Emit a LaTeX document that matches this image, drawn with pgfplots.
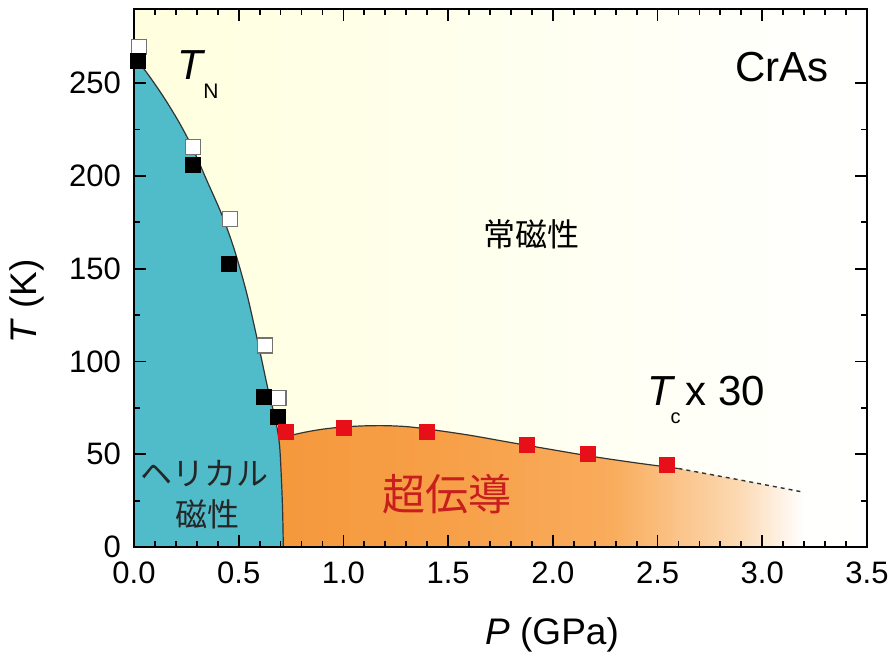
\documentclass[border=0pt]{standalone}
\usepackage{fontspec}
\setmainfont{Liberation Sans}
\newfontfamily\jp{Noto Sans CJK JP}
\usepackage{pgfplots}
\pgfplotsset{compat=1.18}
\definecolor{tealC}{RGB}{80,187,201}
\definecolor{orangeC}{RGB}{245,152,60}
\definecolor{orangeC2}{RGB}{247,160,72}
\definecolor{orangeC3}{RGB}{249,172,92}
\definecolor{orangeC4}{RGB}{252,218,180}
\definecolor{bgY}{RGB}{255,255,222}
\definecolor{redM}{RGB}{232,16,24}
\definecolor{redT}{RGB}{200,30,30}
\pgfdeclarehorizontalshading{orangefade}{100bp}{color(0bp)=(orangeC); color(25bp)=(orangeC); color(42bp)=(orangeC2); color(57bp)=(orangeC3); color(69bp)=(orangeC4); color(75bp)=(white); color(100bp)=(white)}
\begin{document}
\begin{tikzpicture}
\useasboundingbox (-67bp,-55bp) rectangle (379.5bp,273.5bp);
\begin{axis}[
  at={(0,0)}, anchor=south west,
  width=366.5bp, height=269bp, scale only axis,
  xmin=0, xmax=3.5, ymin=0, ymax=290,
  xtick={0,0.5,1,1.5,2,2.5,3,3.5}, minor x tick num=4,
  ytick={0,50,100,150,200,250}, minor y tick num=1,
  tick align=inside, tick pos=both,
  major tick length=6bp, minor tick length=3bp,
  every tick/.style={black, line width=0.9bp},
  axis line style={line width=1.2bp},
  axis on top, clip=false,
  ticklabel style={font=\fontsize{15.5bp}{18bp}\selectfont},
  x tick label style={yshift=-4bp, /pgf/number format/.cd, fixed, fixed zerofill, precision=1, assume math mode=true},
  y tick label style={xshift=-3bp, /pgf/number format/assume math mode=true},
]
% background
\addplot[draw=none, left color=bgY, right color=white] coordinates {(0,290)(3.5,290)} \closedcycle;
% superconducting region
\addplot[draw=none, shade, shading=orangefade] coordinates {
(0.65,57)(0.69,58.5)(0.8,61.5)(0.9,63.5)(1.0,64.7)(1.1,65.3)(1.2,65.4)(1.3,64.9)(1.4,63.6)(1.6,60.3)(1.8,56.3)(2.0,52.4)(2.2,48.6)(2.4,45.3)(2.6,42.3)(2.9,36)(3.2,29.5)} \closedcycle;
% helical region
\addplot[draw=none, fill=tealC] coordinates {
(0,263)(0.045,258)(0.1,249.5)(0.156,240)(0.22,228)(0.28,215)(0.35,197)(0.42,179)(0.48,160)(0.54,136)(0.60,106)(0.64,85)(0.673,70)(0.688,61)(0.697,52)(0.705,34)(0.71,18)(0.713,0)} \closedcycle;
% boundary lines
\addplot[black!80, line width=0.6bp, smooth] coordinates {
(0,263)(0.045,258)(0.1,249.5)(0.156,240)(0.22,228)(0.28,215)(0.35,197)(0.42,179)(0.48,160)(0.54,136)(0.60,106)(0.64,85)(0.673,70)(0.688,61)(0.697,52)(0.705,34)(0.71,18)(0.713,0)};
\addplot[black!80, line width=0.6bp, smooth] coordinates {
(0.69,58.5)(0.8,61.5)(0.9,63.5)(1.0,64.7)(1.1,65.3)(1.2,65.4)(1.3,64.9)(1.4,63.6)(1.6,60.3)(1.8,56.3)(2.0,52.4)(2.2,48.6)(2.4,45.3)(2.6,42.3)};
\addplot[black!80, line width=0.7bp, dashed, dash pattern=on 2bp off 2bp] coordinates {(2.6,42.3)(2.9,36)(3.2,29.5)};
% markers
\addplot[only marks, mark=square*, mark size=3.75bp, mark options={fill=white, draw=black!55, line width=0.6bp}] coordinates {
(0.022,269.5)(0.28,215.6)(0.46,177)(0.626,108.6)(0.69,80.5)};
\addplot[only marks, mark=square*, mark size=3.75bp, mark options={fill=black, draw=black}] coordinates {
(0.02,262)(0.28,206)(0.454,152.7)(0.62,80.8)(0.686,70)};
\addplot[only marks, mark=square*, mark size=3.75bp, mark options={fill=redM, draw=redM}] coordinates {
(0.727,62)(1.0,64.1)(1.40,62)(1.877,54.8)(2.167,50)(2.546,44.5)};
% texts
\node[anchor=base west, font=\fontsize{21bp}{24bp}\selectfont, inner sep=0] at (axis cs:0.205,252.2) {\textit{T}\kern-1bp\raisebox{-9.5bp}{\fontsize{10.5bp}{12bp}\selectfont N}};
\node[anchor=base west, font=\fontsize{21bp}{24bp}\selectfont, inner sep=0] at (axis cs:2.87,251) {CrAs};
\node[anchor=base west, font=\fontsize{21bp}{24bp}\selectfont, inner sep=0] at (axis cs:2.45,76.3) {\textit{T}\kern-2.5bp\raisebox{-9bp}{\fontsize{10bp}{12bp}\selectfont c}\kern2.5bp x 30};
\node[font=\jp\fontsize{16bp}{18bp}\selectfont] at (axis cs:1.90,168.3) {常磁性};
\node[font=\jp\fontsize{16bp}{18bp}\selectfont, text=black!85] at (axis cs:0.339,39.8) {ヘリカル};
\node[font=\jp\fontsize{16bp}{18bp}\selectfont, text=black!85] at (axis cs:0.353,17.7) {磁性};
\node[font=\jp\fontsize{21.5bp}{24bp}\selectfont, text=redT] at (axis cs:1.495,28.5) {超伝導};
\node[font=\fontsize{18.5bp}{21bp}\selectfont] at (axis cs:1.996,-47.3) {\textit{P} (GPa)};
\node[font=\fontsize{18.5bp}{21bp}\selectfont, rotate=90] at (axis cs:-0.511,132.3) {\textit{T} (K)};
\end{axis}
\end{tikzpicture}
\end{document}
